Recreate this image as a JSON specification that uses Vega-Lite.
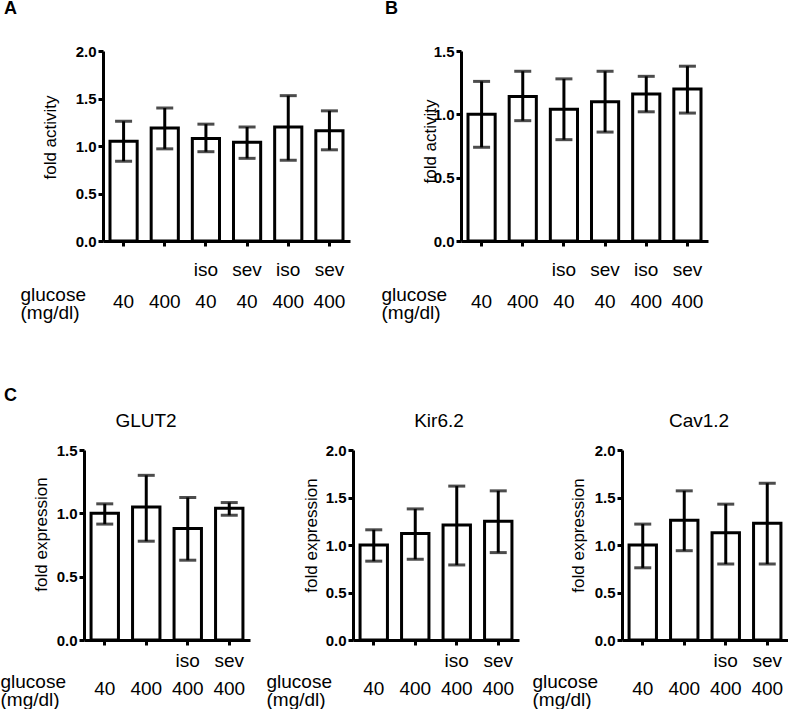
{
  "$schema": "https://vega.github.io/schema/vega-lite/v6.json",
  "padding": {"left": 0, "top": 0, "right": 0, "bottom": 0},
  "background": "white",
  "datasets": {
    "d": [
      {"panel": "A", "cond": "40", "mean": 1.05, "lo": 0.84, "hi": 1.26},
      {"panel": "A", "cond": "400", "mean": 1.19, "lo": 0.97, "hi": 1.40},
      {"panel": "A", "cond": "iso 40", "mean": 1.08, "lo": 0.94, "hi": 1.23},
      {"panel": "A", "cond": "sev 40", "mean": 1.04, "lo": 0.87, "hi": 1.20},
      {"panel": "A", "cond": "iso 400", "mean": 1.20, "lo": 0.85, "hi": 1.53},
      {"panel": "A", "cond": "sev 400", "mean": 1.16, "lo": 0.96, "hi": 1.37},
      {"panel": "B", "cond": "40", "mean": 1.00, "lo": 0.74, "hi": 1.26},
      {"panel": "B", "cond": "400", "mean": 1.14, "lo": 0.95, "hi": 1.34},
      {"panel": "B", "cond": "iso 40", "mean": 1.04, "lo": 0.80, "hi": 1.28},
      {"panel": "B", "cond": "sev 40", "mean": 1.10, "lo": 0.86, "hi": 1.34},
      {"panel": "B", "cond": "iso 400", "mean": 1.16, "lo": 1.02, "hi": 1.30},
      {"panel": "B", "cond": "sev 400", "mean": 1.20, "lo": 1.01, "hi": 1.38},
      {"panel": "GLUT2", "cond": "40", "mean": 1.00, "lo": 0.915, "hi": 1.075},
      {"panel": "GLUT2", "cond": "400", "mean": 1.05, "lo": 0.78, "hi": 1.30},
      {"panel": "GLUT2", "cond": "iso 400", "mean": 0.88, "lo": 0.63, "hi": 1.125},
      {"panel": "GLUT2", "cond": "sev 400", "mean": 1.04, "lo": 0.985, "hi": 1.085},
      {"panel": "Kir6.2", "cond": "40", "mean": 1.00, "lo": 0.83, "hi": 1.16},
      {"panel": "Kir6.2", "cond": "400", "mean": 1.12, "lo": 0.85, "hi": 1.38},
      {"panel": "Kir6.2", "cond": "iso 400", "mean": 1.21, "lo": 0.79, "hi": 1.62},
      {"panel": "Kir6.2", "cond": "sev 400", "mean": 1.25, "lo": 0.92, "hi": 1.57},
      {"panel": "Cav1.2", "cond": "40", "mean": 1.00, "lo": 0.76, "hi": 1.22},
      {"panel": "Cav1.2", "cond": "400", "mean": 1.26, "lo": 0.94, "hi": 1.57},
      {"panel": "Cav1.2", "cond": "iso 400", "mean": 1.13, "lo": 0.80, "hi": 1.43},
      {"panel": "Cav1.2", "cond": "sev 400", "mean": 1.23, "lo": 0.80, "hi": 1.65}
    ]
  },
  "config": {
    "view": {"stroke": null},
    "font": "Liberation Sans",
    "axis": {
      "grid": false, "domainColor": "black", "domainWidth": 3, "tickColor": "black", "tickWidth": 3, "tickSize": 5,
      "labelColor": "black", "titleColor": "black", "labelFont": "Liberation Sans", "titleFont": "Liberation Sans"
    },
    "axisY": {"labelFontSize": 15, "labelFontWeight": "bold", "labelPadding": 2, "titleFontSize": 17, "titleFontWeight": "normal", "format": ".1f"},
    "axisX": {
      "labelFontSize": 19, "labelAngle": 0, "labelBaseline": "alphabetic", "labelOverlap": false,
      "titleFontSize": 19, "titleFontWeight": "normal", "titleAlign": "left", "titleBaseline": "alphabetic", "titleAngle": 0, "titleLineHeight": 18,
      "labelExpr": "indexof(datum.value, ' ') > 0 ? split(datum.value, ' ') : ['', datum.value]"
    },
    "title": {"color": "black", "font": "Liberation Sans"}
  },
  "bounds": "flush",
  "spacing": 399,
  "vconcat": [
    {
      "bounds": "flush",
      "spacing": 0,
      "hconcat": [
        {"width": 19, "height": 190, "data": {"values": [{}]}, "mark": {"type": "text", "text": ""}},
        {
          "width": 247, "height": 190,
          "title": {"text": "A", "anchor": "start", "frame": "group", "dx": -99, "fontSize": 18, "fontWeight": "bold", "offset": 26},
          "data": {"name": "d"},
          "transform": [{"filter": "datum.panel === 'A'"}],
          "encoding": {"x": {"field": "cond", "type": "nominal", "sort": null, "scale": {"paddingInner": 0.34, "paddingOuter": 0.17},
            "axis": {"title": ["glucose", "(mg/dl)"], "titleX": -83, "titleY": 59, "labelPadding": 29.5, "labelLineHeight": 32}}},
          "layer": [
            {"mark": {"type": "bar", "fill": "white", "stroke": "black", "strokeWidth": 3},
             "encoding": {"y": {"field": "mean", "type": "quantitative", "title": "fold activity", "scale": {"domain": [0, 2], "nice": false},
               "axis": {"values": [0, 0.5, 1, 1.5, 2], "titlePadding": 16, "titleY": 86}}}},
            {"mark": {"type": "rule", "strokeWidth": 3, "color": "black"},
             "encoding": {"y": {"field": "lo", "type": "quantitative", "title": "fold activity"}, "y2": {"field": "hi"}}},
            {"mark": {"type": "tick", "orient": "horizontal", "size": 17, "thickness": 3, "color": "black"},
             "encoding": {"y": {"field": "lo", "type": "quantitative", "title": "fold activity"}}},
            {"mark": {"type": "tick", "orient": "horizontal", "size": 17, "thickness": 3, "color": "black"},
             "encoding": {"y": {"field": "hi", "type": "quantitative", "title": "fold activity"}}}
          ]
        },
        {"width": 111, "height": 190, "data": {"values": [{}]}, "mark": {"type": "text", "text": ""}},
        {
          "width": 247, "height": 190,
          "title": {"text": "B", "anchor": "start", "frame": "group", "dx": -76, "fontSize": 18, "fontWeight": "bold", "offset": 26},
          "data": {"name": "d"},
          "transform": [{"filter": "datum.panel === 'B'"}],
          "encoding": {"x": {"field": "cond", "type": "nominal", "sort": null, "scale": {"paddingInner": 0.34, "paddingOuter": 0.17},
            "axis": {"title": ["glucose", "(mg/dl)"], "titleX": -80, "titleY": 59, "labelPadding": 29.5, "labelLineHeight": 32}}},
          "layer": [
            {"mark": {"type": "bar", "fill": "white", "stroke": "black", "strokeWidth": 3},
             "encoding": {"y": {"field": "mean", "type": "quantitative", "title": "fold activity", "scale": {"domain": [0, 1.5], "nice": false},
               "axis": {"values": [0, 0.5, 1, 1.5], "titlePadding": -6, "titleY": 90}}}},
            {"mark": {"type": "rule", "strokeWidth": 3, "color": "black"},
             "encoding": {"y": {"field": "lo", "type": "quantitative", "title": "fold activity"}, "y2": {"field": "hi"}}},
            {"mark": {"type": "tick", "orient": "horizontal", "size": 17, "thickness": 3, "color": "black"},
             "encoding": {"y": {"field": "lo", "type": "quantitative", "title": "fold activity"}}},
            {"mark": {"type": "tick", "orient": "horizontal", "size": 17, "thickness": 3, "color": "black"},
             "encoding": {"y": {"field": "hi", "type": "quantitative", "title": "fold activity"}}}
          ]
        }
      ]
    },
    {
      "bounds": "flush",
      "spacing": 103,
      "title": {"text": "C", "anchor": "start", "frame": "group", "dx": -80, "fontSize": 18, "fontWeight": "bold", "offset": 7},
      "hconcat": [
        {
          "width": 166, "height": 190,
          "title": {"text": "GLUT2", "fontSize": 19, "fontWeight": "normal", "dx": -21, "offset": 12},
          "data": {"name": "d"},
          "transform": [{"filter": "datum.panel === 'GLUT2'"}],
          "encoding": {"x": {"field": "cond", "type": "nominal", "sort": null, "scale": {"paddingInner": 0.34, "paddingOuter": 0.17},
            "axis": {"title": ["glucose", "(mg/dl)"], "titleX": -84, "titleY": 47, "labelPadding": 21.5, "labelLineHeight": 27.5}}},
          "layer": [
            {"mark": {"type": "bar", "fill": "white", "stroke": "black", "strokeWidth": 3},
             "encoding": {"y": {"field": "mean", "type": "quantitative", "title": "fold expression", "scale": {"domain": [0, 1.5], "nice": false},
               "axis": {"values": [0, 0.5, 1, 1.5], "titlePadding": 6, "titleY": 84}}}},
            {"mark": {"type": "rule", "strokeWidth": 3, "color": "black"},
             "encoding": {"y": {"field": "lo", "type": "quantitative", "title": "fold expression"}, "y2": {"field": "hi"}}},
            {"mark": {"type": "tick", "orient": "horizontal", "size": 17, "thickness": 3, "color": "black"},
             "encoding": {"y": {"field": "lo", "type": "quantitative", "title": "fold expression"}}},
            {"mark": {"type": "tick", "orient": "horizontal", "size": 17, "thickness": 3, "color": "black"},
             "encoding": {"y": {"field": "hi", "type": "quantitative", "title": "fold expression"}}}
          ]
        },
        {
          "width": 166, "height": 190,
          "title": {"text": "Kir6.2", "fontSize": 19, "fontWeight": "normal", "dx": 3, "offset": 12},
          "data": {"name": "d"},
          "transform": [{"filter": "datum.panel === 'Kir6.2'"}],
          "encoding": {"x": {"field": "cond", "type": "nominal", "sort": null, "scale": {"paddingInner": 0.34, "paddingOuter": 0.17},
            "axis": {"title": ["glucose", "(mg/dl)"], "titleX": -87, "titleY": 47, "labelPadding": 21.5, "labelLineHeight": 27.5}}},
          "layer": [
            {"mark": {"type": "bar", "fill": "white", "stroke": "black", "strokeWidth": 3},
             "encoding": {"y": {"field": "mean", "type": "quantitative", "title": "fold expression", "scale": {"domain": [0, 2], "nice": false},
               "axis": {"values": [0, 0.5, 1, 1.5, 2], "titlePadding": 4.5, "titleY": 85}}}},
            {"mark": {"type": "rule", "strokeWidth": 3, "color": "black"},
             "encoding": {"y": {"field": "lo", "type": "quantitative", "title": "fold expression"}, "y2": {"field": "hi"}}},
            {"mark": {"type": "tick", "orient": "horizontal", "size": 17, "thickness": 3, "color": "black"},
             "encoding": {"y": {"field": "lo", "type": "quantitative", "title": "fold expression"}}},
            {"mark": {"type": "tick", "orient": "horizontal", "size": 17, "thickness": 3, "color": "black"},
             "encoding": {"y": {"field": "hi", "type": "quantitative", "title": "fold expression"}}}
          ]
        },
        {
          "width": 166, "height": 190,
          "title": {"text": "Cav1.2", "fontSize": 19, "fontWeight": "normal", "dx": -6, "offset": 12},
          "data": {"name": "d"},
          "transform": [{"filter": "datum.panel === 'Cav1.2'"}],
          "encoding": {"x": {"field": "cond", "type": "nominal", "sort": null, "scale": {"paddingInner": 0.34, "paddingOuter": 0.17},
            "axis": {"title": ["glucose", "(mg/dl)"], "titleX": -90, "titleY": 47, "labelPadding": 21.5, "labelLineHeight": 27.5}}},
          "layer": [
            {"mark": {"type": "bar", "fill": "white", "stroke": "black", "strokeWidth": 3},
             "encoding": {"y": {"field": "mean", "type": "quantitative", "title": "fold expression", "scale": {"domain": [0, 2], "nice": false},
               "axis": {"values": [0, 0.5, 1, 1.5, 2], "titlePadding": 7, "titleY": 85}}}},
            {"mark": {"type": "rule", "strokeWidth": 3, "color": "black"},
             "encoding": {"y": {"field": "lo", "type": "quantitative", "title": "fold expression"}, "y2": {"field": "hi"}}},
            {"mark": {"type": "tick", "orient": "horizontal", "size": 17, "thickness": 3, "color": "black"},
             "encoding": {"y": {"field": "lo", "type": "quantitative", "title": "fold expression"}}},
            {"mark": {"type": "tick", "orient": "horizontal", "size": 17, "thickness": 3, "color": "black"},
             "encoding": {"y": {"field": "hi", "type": "quantitative", "title": "fold expression"}}}
          ]
        }
      ]
    }
  ]
}
